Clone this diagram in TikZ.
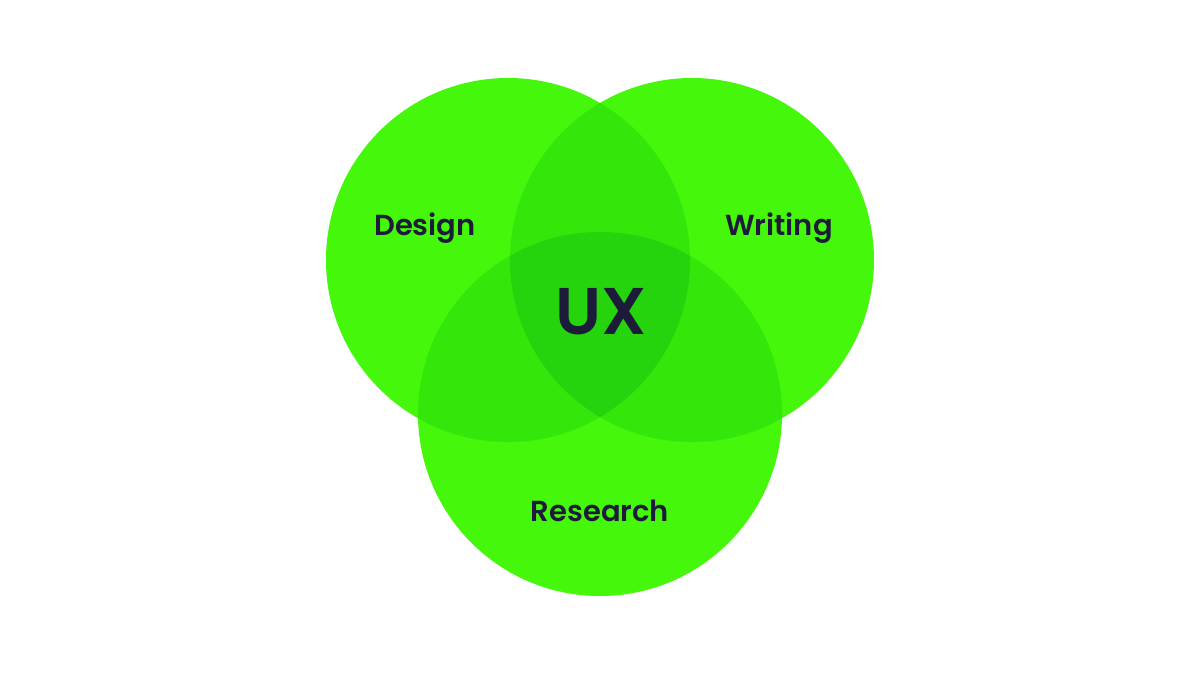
\documentclass[tikz,border=0pt]{standalone}
\usepackage{fontspec}
\setmainfont{Poppins}[BoldFont={* SemiBold}]
\definecolor{g1}{HTML}{45F70A}
\definecolor{g2}{HTML}{33E70B}
\definecolor{g3}{HTML}{25D40C}
\definecolor{ink}{HTML}{1C1B3A}
\begin{document}
\begin{tikzpicture}[x=1pt,y=-1pt,lbl/.style={text=ink,font=\bfseries\fontsize{29}{30}\selectfont}]
\useasboundingbox (0,0) rectangle (1200,675);
\fill[white] (0,0) rectangle (1200,675);
\def\cA{(508,260) circle (182)}
\def\cB{(692,260) circle (182)}
\def\cC{(600,414) circle (182)}
\fill[g1] \cA; \fill[g1] \cB; \fill[g1] \cC;
\begin{scope}\clip \cA; \fill[g2] \cB; \fill[g2] \cC; \end{scope}
\begin{scope}\clip \cB; \fill[g2] \cC; \end{scope}
\begin{scope}\clip \cA; \clip \cB; \fill[g3] \cC; \end{scope}
\node[lbl] (d) at (425,228) {Design};
\node[lbl] (w) at (779,228) {Writing};
\node[lbl] (r) at (600,511) {Research};
\node[text=ink,font=\bfseries\fontsize{66}{68}\selectfont] (ux) at (601,312) {UX};
\end{tikzpicture}
\end{document}
